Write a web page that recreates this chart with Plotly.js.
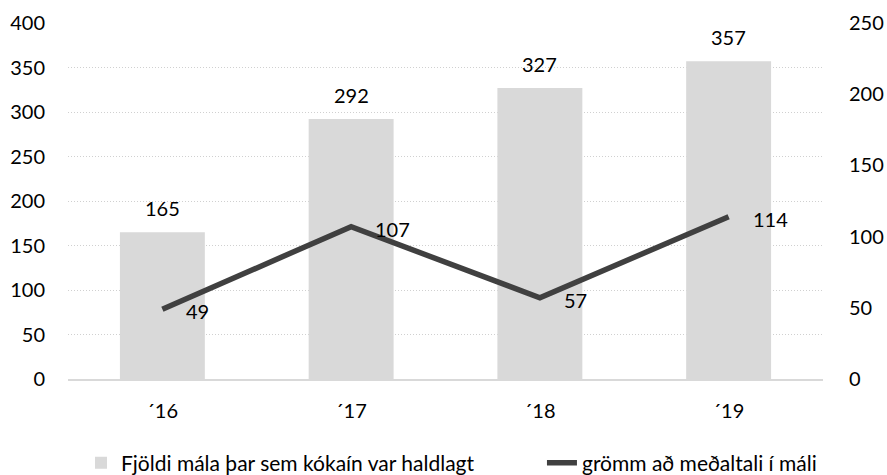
<!DOCTYPE html>
<html>
<head>
<meta charset="utf-8">
<script src="https://cdn.plot.ly/plotly-3.0.1.min.js"></script>
<style>html,body{margin:0;padding:0;background:#fff}#chart{width:887px;height:475px}</style>
</head>
<body>
<div id="chart"></div>
<script>
const categories = ["´16", "´17", "´18", "´19"];
const casesCount = [165, 292, 327, 357];
const avgGrams = [49, 107, 57, 114];
const barName = "Fjöldi mála þar sem kókaín var haldlagt";
const lineName = "grömm að meðaltali í máli";

const fontFam = "Lato, 'Open Sans', sans-serif";

const traces = [
  {
    type: "bar",
    x: categories,
    y: casesCount,
    name: barName,
    marker: { color: "#d9d9d9" },
    yaxis: "y",
    legend: "legend",
    hoverinfo: "x+y"
  },
  {
    type: "scatter",
    mode: "lines",
    x: categories,
    y: avgGrams,
    name: lineName,
    line: { color: "#404040", width: 5.5 },
    yaxis: "y2",
    legend: "legend2"
  }
];

const annotations = [];
categories.forEach((c, i) => {
  annotations.push({
    x: c, y: casesCount[i], xref: "x", yref: "y",
    text: String(casesCount[i]), showarrow: false,
    yanchor: "middle", yshift: 24,
    font: { family: fontFam, size: 20, color: "#000" }
  });
  annotations.push({
    x: c, y: avgGrams[i], xref: "x", yref: "y2",
    text: String(avgGrams[i]), showarrow: false,
    xanchor: "left", yanchor: "middle", xshift: 22, yshift: -2,
    font: { family: fontFam, size: 20, color: "#000" }
  });
});

const legendFont = { family: fontFam, size: 21, color: "#000" };

const layout = {
  width: 887, height: 475,
  margin: { l: 68, r: 64, t: 23, b: 96, autoexpand: false },
  paper_bgcolor: "#fff", plot_bgcolor: "#fff",
  font: { family: fontFam, size: 20, color: "#000" },
  bargap: 0.55,
  showlegend: true,
  legend: {
    orientation: "h",
    xref: "container", yref: "container",
    x: 0.0913, xanchor: "left", y: 0.025, yanchor: "middle",
    font: legendFont
  },
  legend2: {
    orientation: "h",
    xref: "container", yref: "container",
    x: 0.611, xanchor: "left", y: 0.025, yanchor: "middle",
    font: legendFont
  },
  xaxis: {
    type: "category", range: [-0.5, 3.5], automargin: false,
    showline: true, linecolor: "#d9d9d9", linewidth: 1.5,
    showgrid: false, ticks: "", ticklen: 0,
    ticklabelstandoff: 13,
    tickfont: { family: fontFam, size: 20, color: "#000" }
  },
  yaxis: {
    range: [0, 400], dtick: 50, tick0: 0, automargin: false,
    showgrid: true, gridcolor: "#d0d0d0", griddash: "1px,2px", gridwidth: 1,
    zeroline: false, showline: false, ticks: "",
    ticklabelstandoff: 22,
    tickfont: { family: fontFam, size: 20, color: "#000" }
  },
  yaxis2: {
    range: [0, 250], dtick: 50, tick0: 0, automargin: false,
    overlaying: "y", side: "right",
    showgrid: false, zeroline: false, showline: false, ticks: "",
    ticklabelstandoff: 25,
    tickfont: { family: fontFam, size: 20, color: "#000" }
  },
  annotations: annotations
};

Plotly.newPlot("chart", traces, layout, { displayModeBar: false, staticPlot: true });
</script>
</body>
</html>
